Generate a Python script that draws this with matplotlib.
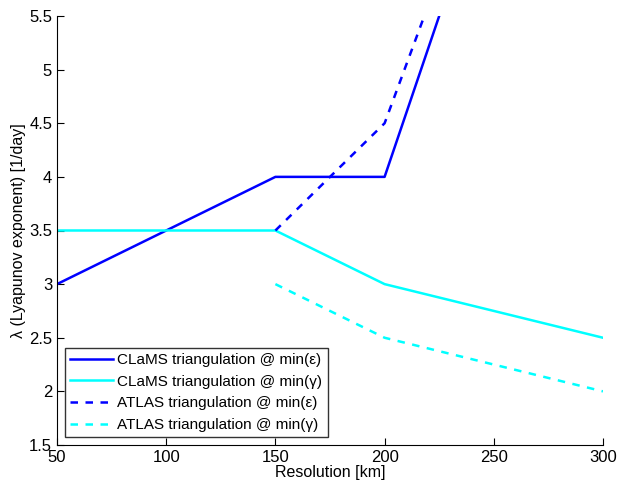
import numpy as np
import matplotlib
matplotlib.use('Agg')
import matplotlib.pyplot as plt

plt.rcParams['font.family'] = ['Liberation Sans', 'DejaVu Sans']

res = [50, 100, 150, 200, 250, 300]
clams_eps = [3.0, 3.5, 4.0, 4.0, 7.0, None]
clams_gam = [3.5, 3.5, 3.5, 3.0, 2.75, 2.5]
atlas_res = [150, 200, 250, 300]
atlas_eps = [3.5, 4.5, 7.25, None]
atlas_gam = [3.0, 2.5, 2.25, 2.0]

def clean(x, y):
	pts = [(a, b) for a, b in zip(x, y) if b is not None]
	return [p[0] for p in pts], [p[1] for p in pts]

fig = plt.figure(figsize=(6.19, 4.83), dpi=100)
ax = fig.add_axes([57/619, 1-445/483, 546/619, 429/483])

x, y = clean(res, clams_eps)
ax.plot(x, y, color='#0000ff', lw=1.8, label=u'CLaMS triangulation @ min(\u03b5)')
x, y = clean(res, clams_gam)
ax.plot(x, y, color='#00ffff', lw=1.8, label=u'CLaMS triangulation @ min(\u03b3)')
x, y = clean(atlas_res, atlas_eps)
ax.plot(x, y, color='#0000ff', lw=1.8, ls=(0, (3, 3)), label=u'ATLAS triangulation @ min(\u03b5)')
x, y = clean(atlas_res, atlas_gam)
ax.plot(x, y, color='#00ffff', lw=1.8, ls=(0, (3, 3)), label=u'ATLAS triangulation @ min(\u03b3)')

ax.set_xlim(50, 300)
ax.set_ylim(1.5, 5.5)
ax.set_xticks([50, 100, 150, 200, 250, 300])
ax.set_yticks([1.5, 2, 2.5, 3, 3.5, 4, 4.5, 5, 5.5])
ax.set_yticklabels(['1.5', '2', '2.5', '3', '3.5', '4', '4.5', '5', '5.5'])
ax.spines['top'].set_visible(False)
ax.spines['right'].set_visible(False)
ax.tick_params(direction='in', labelsize=12, length=5)
ax.set_xlabel('Resolution [km]', fontsize=11.5, labelpad=0)
ax.set_ylabel(u'\u03bb (Lyapunov exponent) [1/day]', fontsize=11.5, labelpad=2)

leg = ax.legend(loc='lower left', fontsize=11, frameon=True, fancybox=False,
	edgecolor='black', borderaxespad=0.5, handlelength=2.8, handletextpad=0.3,
	labelspacing=0.5, borderpad=0.35)
leg.get_frame().set_linewidth(1)

fig.savefig('out.png', dpi=100)
